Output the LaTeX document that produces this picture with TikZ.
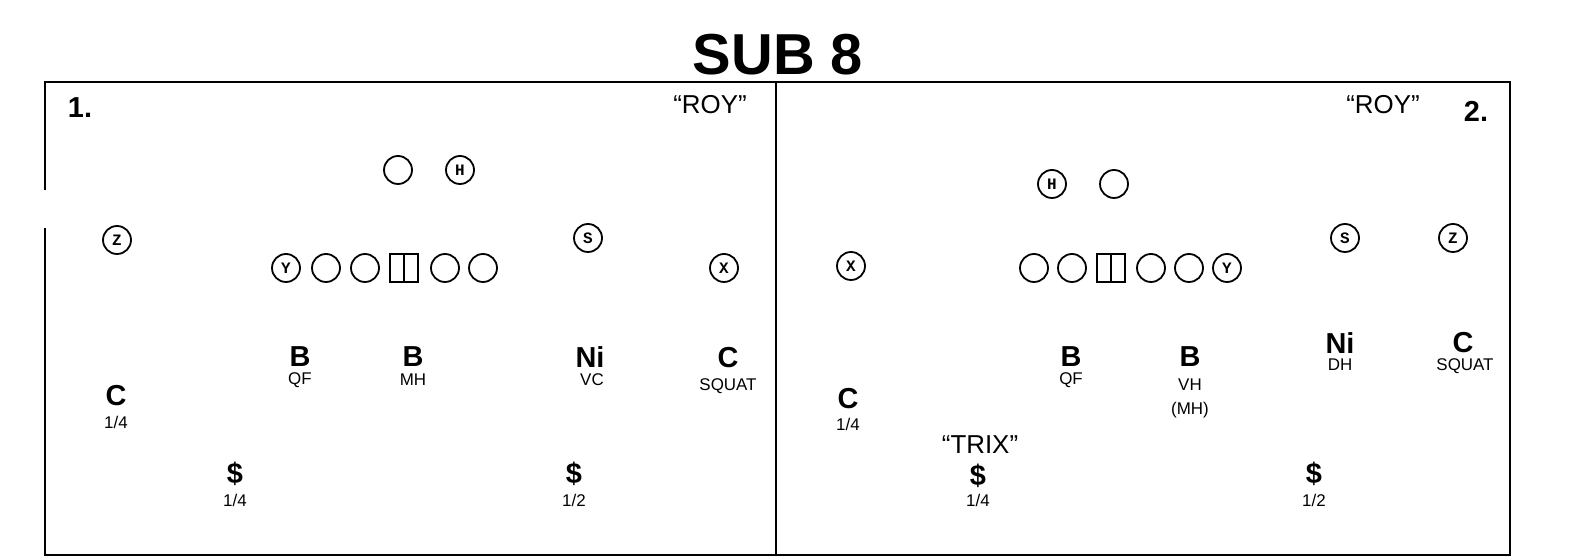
\documentclass[tikz,border=0pt]{standalone}
\usepackage{fontspec}
\setmainfont{Liberation Sans}
\newfontfamily\monob{Liberation Mono}
\tikzset{
 pl/.style={circle,draw,line width=0.9pt,minimum size=14bp,inner sep=0pt,font=\monob\bfseries\fontsize{8}{8}\selectfont},
 ctr/.style={draw,line width=0.9pt,minimum size=14bp,inner sep=0pt,path picture={\draw[line width=0.9pt] (path picture bounding box.north)--(path picture bounding box.south);}},
 big/.style={font=\bfseries\fontsize{14.5}{14.5}\selectfont,inner sep=0pt},
 sm/.style={font=\fontsize{8.5}{9}\selectfont,inner sep=0pt},
 q/.style={font=\fontsize{13}{13}\selectfont,inner sep=0pt},
}
\begin{document}
\begin{tikzpicture}[x=0.5bp,y=-0.5bp]
\useasboundingbox (0,0) rectangle (1576,560);
\node[font=\bfseries\fontsize{29}{29}\selectfont,inner sep=0pt] (title) at (778,55) {SUB 8};
\draw[line width=1pt] (45,190) -- (45,82) -- (1510,82) -- (1510,555) -- (45,555) -- (45,228);
\draw[line width=1pt] (776,82) -- (776,555);
% panel 1
\node[big] (n1) at (80,108) {1.};
\node[q] (roy1) at (710,105) {“ROY”};
\node[pl] (a1) at (398,170) {};
\node[pl] (ah) at (460,170) {H};
\node[pl] (az) at (117,240) {Z};
\node[pl] (as) at (588,238) {S};
\node[pl] (ax) at (724,268) {X};
\node[pl] (ay) at (286,268) {Y};
\node[pl] (ag1) at (326,268) {};
\node[pl] (ag2) at (365,268) {};
\node[ctr] (ac) at (404,268) {};
\node[pl] (ag3) at (445,268) {};
\node[pl] (ag4) at (483,268) {};
\node[big] (b1) at (300,357) {B}; \node[sm] (b1t) at (300,380) {QF};
\node[big] (b2) at (413,357) {B}; \node[sm] (b2t) at (413,380) {MH};
\node[big] (ni1) at (590,357) {Ni}; \node[sm] (ni1t) at (592,380) {VC};
\node[big] (c1) at (728,358) {C}; \node[sm] (c1t) at (728,386) {SQUAT};
\node[big] (c2) at (116,396) {C}; \node[sm] (c2t) at (116,422) {1/4};
\node[big] (d1) at (235,474) {\$}; \node[sm] (d1t) at (235,500) {1/4};
\node[big] (d2) at (574,474) {\$}; \node[sm] (d2t) at (574,500) {1/2};
% panel 2
\node[q] (roy2) at (1383,105) {“ROY”};
\node[big] (n2) at (1476,111) {2.};
\node[pl] (bh) at (1052,184) {H};
\node[pl] (b0) at (1114,184) {};
\node[pl] (bs) at (1345,238) {S};
\node[pl] (bz) at (1453,238) {Z};
\node[pl] (bx) at (851,266) {X};
\node[pl] (bg1) at (1034,268) {};
\node[pl] (bg2) at (1072,268) {};
\node[ctr] (bc) at (1111,268) {};
\node[pl] (bg3) at (1151,268) {};
\node[pl] (bg4) at (1189,268) {};
\node[pl] (by) at (1227,268) {Y};
\node[big] (e1) at (1071,357) {B}; \node[sm] (e1t) at (1071,380) {QF};
\node[big] (e2) at (1190,357) {B}; \node[sm] (e2t) at (1190,385) {VH}; \node[sm] (e2u) at (1190,410) {(MH)};
\node[big] (ni2) at (1340,343) {Ni}; \node[sm] (ni2t) at (1340,365) {DH};
\node[big] (c3) at (1463,343) {C}; \node[sm] (c3t) at (1465,366) {SQUAT};
\node[big] (c4) at (848,399) {C}; \node[sm] (c4t) at (848,424) {1/4};
\node[q] (trix) at (980,445) {“TRIX”};
\node[big] (f1) at (978,476) {\$}; \node[sm] (f1t) at (978,500) {1/4};
\node[big] (f2) at (1314,474) {\$}; \node[sm] (f2t) at (1314,500) {1/2};
\end{tikzpicture}
\end{document}
